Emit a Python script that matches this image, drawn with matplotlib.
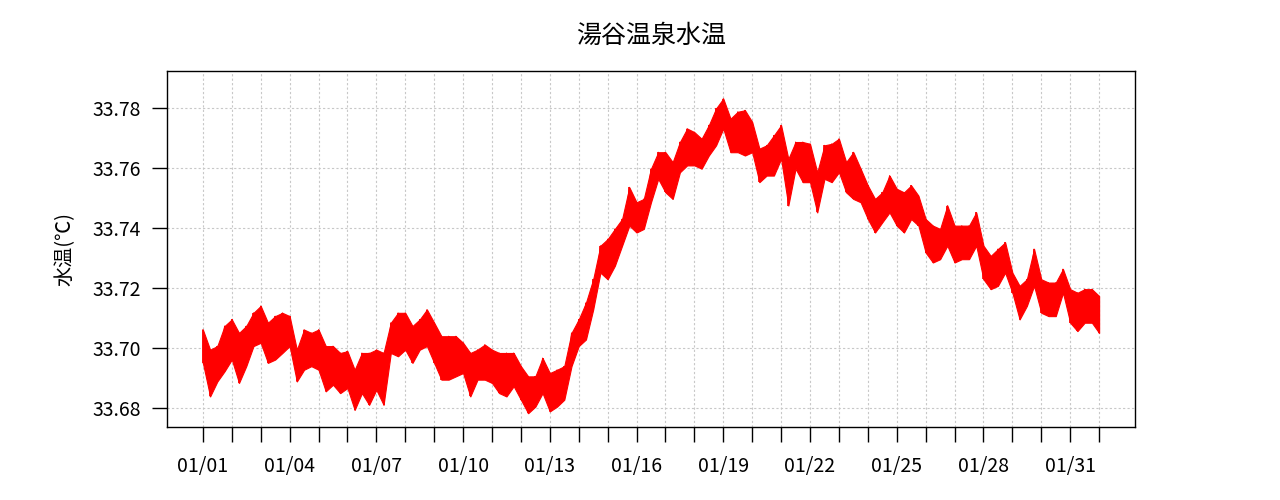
import numpy as np
import matplotlib
matplotlib.use('Agg')
import matplotlib.pyplot as plt

plt.rcParams['font.family'] = ['Noto Sans CJK JP', 'DejaVu Sans']

# sample times in days of January (1.0 = 01/01 00:00), quarter-day steps
days = np.arange(1.0, 32.01, 0.25)

# upper / lower envelope of the noisy water temperature trace
temp_hi = [
    33.7061, 33.6994, 33.7006, 33.7073, 33.7095, 33.7050, 33.7073, 33.7117,
    33.7140, 33.7084, 33.7106, 33.7117, 33.7106, 33.6994, 33.7061, 33.7050,
    33.7061, 33.7006, 33.7006, 33.6983, 33.6989, 33.6927, 33.6983, 33.6983,
    33.6994, 33.6983, 33.7084, 33.7117, 33.7117, 33.7073, 33.7095, 33.7128,
    33.7084, 33.7039, 33.7039, 33.7039, 33.7017, 33.6983, 33.6994, 33.7011,
    33.6994, 33.6983, 33.6983, 33.6983, 33.6939, 33.6905, 33.6905, 33.6966,
    33.6916, 33.6927, 33.6939, 33.7050, 33.7095, 33.7151, 33.7229, 33.7341,
    33.7363, 33.7397, 33.7430, 33.7536, 33.7486, 33.7497, 33.7598, 33.7653,
    33.7653, 33.7620, 33.7687, 33.7732, 33.7720, 33.7698, 33.7743, 33.7799,
    33.7832, 33.7765, 33.7788, 33.7793, 33.7754, 33.7665, 33.7676, 33.7709,
    33.7743, 33.7631, 33.7687, 33.7687, 33.7681, 33.7586, 33.7676, 33.7681,
    33.7698, 33.7620, 33.7653, 33.7598, 33.7542, 33.7497, 33.7519, 33.7575,
    33.7531, 33.7519, 33.7542, 33.7508, 33.7430, 33.7408, 33.7397, 33.7475,
    33.7408, 33.7408, 33.7408, 33.7452, 33.7341, 33.7307, 33.7330, 33.7352,
    33.7251, 33.7207, 33.7229, 33.7330, 33.7229, 33.7218, 33.7218, 33.7263,
    33.7196, 33.7184, 33.7196, 33.7196, 33.7173,
]
temp_lo = [
    33.6950, 33.6838, 33.6888, 33.6922, 33.6961, 33.6883, 33.6939, 33.7006,
    33.7017, 33.6950, 33.6961, 33.6983, 33.7006, 33.6888, 33.6927, 33.6939,
    33.6927, 33.6855, 33.6877, 33.6849, 33.6866, 33.6793, 33.6849, 33.6810,
    33.6860, 33.6810, 33.6983, 33.6972, 33.6994, 33.6950, 33.6994, 33.7006,
    33.6950, 33.6894, 33.6894, 33.6905, 33.6916, 33.6838, 33.6894, 33.6894,
    33.6883, 33.6849, 33.6838, 33.6872, 33.6827, 33.6782, 33.6804, 33.6849,
    33.6788, 33.6804, 33.6827, 33.6939, 33.7006, 33.7028, 33.7128, 33.7251,
    33.7229, 33.7274, 33.7341, 33.7408, 33.7385, 33.7397, 33.7486, 33.7564,
    33.7519, 33.7497, 33.7586, 33.7609, 33.7609, 33.7598, 33.7642, 33.7676,
    33.7732, 33.7653, 33.7653, 33.7642, 33.7653, 33.7553, 33.7575, 33.7575,
    33.7631, 33.7475, 33.7598, 33.7553, 33.7553, 33.7452, 33.7564, 33.7553,
    33.7586, 33.7519, 33.7497, 33.7486, 33.7430, 33.7385, 33.7419, 33.7452,
    33.7408, 33.7385, 33.7430, 33.7408, 33.7318, 33.7285, 33.7296, 33.7341,
    33.7285, 33.7296, 33.7296, 33.7341, 33.7229, 33.7196, 33.7207, 33.7251,
    33.7184, 33.7095, 33.7140, 33.7207, 33.7117, 33.7106, 33.7106, 33.7184,
    33.7084, 33.7056, 33.7084, 33.7084, 33.7050,
]

tick_days = np.arange(1, 33)
tick_labels = ['01/%02d' % d if (d - 1) % 3 == 0 else '' for d in range(1, 32)] + ['']
y_ticks = [33.68, 33.70, 33.72, 33.74, 33.76, 33.78]

hi = np.array(temp_hi)
lo = np.array(temp_lo)

fig = plt.figure(figsize=(12.8, 5), dpi=100)
ax = fig.add_axes([0.1305, 0.146, 0.7562, 0.712])

# grid (R style dotted)
for d in tick_days:
    ax.axvline(d, color='#c8c8c8', lw=0.8, ls=(0, (2, 2)), zorder=0)
for v in y_ticks:
    ax.axhline(v, color='#c8c8c8', lw=0.8, ls=(0, (2, 2)), zorder=0)

ax.fill_between(days, lo, hi, color='red', lw=0.8, zorder=2)
# vertical spikes at each sample for the noisy look
ax.vlines(days, lo, hi, color='red', lw=1.2, zorder=3)
zz_t = np.repeat(days, 2)
zz_v = np.empty(len(days) * 2)
zz_v[0::2] = hi
zz_v[1::2] = lo
ax.plot(zz_t, zz_v, color='red', lw=0.7, zorder=3)

ax.set_xlim(1 - 31 * 0.04, 32 + 31 * 0.04)
ax.set_ylim(33.6736, 33.7924)
ax.set_xticks(tick_days)
ax.set_xticklabels(tick_labels)
ax.set_yticks(y_ticks)
ax.set_yticklabels(['%.2f' % v for v in y_ticks])
ax.tick_params(axis='both', direction='out', length=11, width=1, labelsize=14, pad=8)
ax.tick_params(axis='x', pad=10)
for s in ax.spines.values():
    s.set_linewidth(1.0)

ax.set_ylabel('水温(℃)', fontsize=14.5, labelpad=12)
ax.set_title('湯谷温泉水温', fontsize=18, pad=20)

fig.savefig('out.png', dpi=100)
